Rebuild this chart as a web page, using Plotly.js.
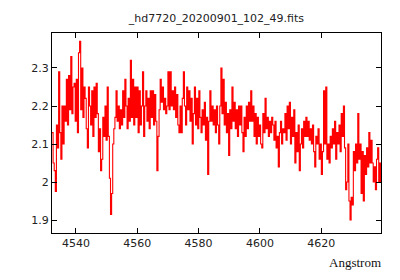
<!DOCTYPE html>
<html>
<head>
<meta charset="utf-8">
<script src="https://cdn.plot.ly/plotly-3.0.1.min.js"></script>
<style>html,body{margin:0;padding:0;background:#fff;}#chart{width:400px;height:280px;}</style>
</head>
<body>
<div id="chart"></div>
<script>
// Spectrum: start wavelength and sampling step (Angstrom)
const waveStart = 4532.2;
const waveStep = 0.36;
// Flux values
const flux = [
  2.13, 2.05, 2.03, 1.975, 2.15, 2.09, 2.29, 2.13, 2.06, 2.2,
  2.1, 2.2, 2.16, 2.27, 2.15, 2.28, 2.19, 2.33, 2.18, 2.25,
  2.26, 2.16, 2.27, 2.13, 2.34, 2.37, 2.19, 2.3, 2.17, 2.25,
  2.22, 2.14, 2.09, 2.25, 2.2, 2.15, 2.24, 2.12, 2.25, 2.17,
  2.26, 2.18, 2.08, 2.14, 2.03, 2.06, 2.17, 2.12, 2.2, 2.11,
  2.25, 2.12, 2.01, 1.915, 1.97, 2.1, 2.14, 2.17, 2.24, 2.16,
  2.2, 2.14, 2.19, 2.15, 2.24, 2.17, 2.27, 2.2, 2.14, 2.22,
  2.16, 2.32, 2.17, 2.27, 2.15, 2.25, 2.17, 2.25, 2.13, 2.24,
  2.15, 2.2, 2.29, 2.12, 2.2, 2.24, 2.16, 2.22, 2.14, 2.24,
  2.17, 2.24, 2.15, 2.23, 2.16, 2.03, 2.12, 2.19, 2.27, 2.21,
  2.25, 2.19, 2.22, 2.18, 2.2, 2.29, 2.19, 2.29, 2.2, 2.24,
  2.19, 2.25, 2.17, 2.23, 2.15, 2.13, 2.2, 2.13, 2.22, 2.29,
  2.2, 2.15, 2.25, 2.19, 2.24, 2.16, 2.22, 2.1, 2.18, 2.25,
  2.15, 2.22, 2.14, 2.24, 2.17, 2.13, 2.19, 2.15, 2.21, 2.11,
  2.17, 2.02, 2.16, 2.24, 2.16, 2.2, 2.15, 2.19, 2.13, 2.2,
  2.15, 2.1, 2.2, 2.3, 2.18, 2.27, 2.15, 2.21, 2.13, 2.18,
  2.07, 2.19, 2.14, 2.25, 2.16, 2.21, 2.14, 2.19, 2.12, 2.2,
  2.15, 2.2, 2.13, 2.08, 2.17, 2.12, 2.2, 2.14, 2.21, 2.16,
  2.24, 2.16, 2.2, 2.12, 2.18, 2.1, 2.17, 2.12, 2.15, 2.1,
  2.09, 2.18, 2.13, 2.22, 2.14, 2.17, 2.12, 2.16, 2.13, 2.17,
  2.15, 2.11, 2.16, 2.09, 2.12, 2.04, 2.13, 2.16, 2.1, 2.14,
  2.13, 2.18, 2.11, 2.2, 2.14, 2.21, 2.1, 2.17, 2.12, 2.19,
  2.05, 2.13, 2.08, 2.15, 2.03, 2.1, 2.14, 2.09, 2.16, 2.12,
  2.17, 2.12, 2.16, 2.11, 2.14, 2.1, 2.15, 2.08, 2.04, 2.12,
  2.1, 2.14, 2.06, 2.1, 2.02, 2.08, 2.24, 2.1, 2.25, 2.06,
  2.1, 2.05, 2.12, 2.09, 2.14, 2.1, 2.16, 2.06, 2.13, 2.1,
  2.15, 2.08, 2.18, 2.12, 2.2, 2.09, 1.98, 2.0, 2.1, 1.95,
  1.9, 1.96, 1.94, 2.08, 2.03, 2.1, 2.05, 2.18, 2.06, 2.1,
  1.97, 2.08, 1.95, 2.07, 2.02, 2.09, 2.04, 2.13, 2.05, 2.11,
  2.05, 2.0, 2.04, 1.98, 2.06, 2.09, 2.0, 2.05, 2.0
];
const xTicks = [4540, 4560, 4580, 4600, 4620];
const yTicks = [1.9, 2, 2.1, 2.2, 2.3];
const titleText = "_hd7720_20200901_102_49.fits";
const xLabel = "Angstrom";

const trace = {
  type: "scatter",
  mode: "lines",
  y: flux,
  x0: waveStart,
  dx: waveStep,
  line: {color: "#ff0000", width: 1.1, shape: "hv"},
  hoverinfo: "skip"
};

const axisCommon = {
  showline: true, linecolor: "#000", linewidth: 1, mirror: "ticks",
  ticks: "inside", ticklen: 5, tickcolor: "#000", tickwidth: 1,
  showgrid: false, zeroline: false,
  tickfont: {family: "DejaVu Sans, sans-serif", size: 11, color: "#222"}
};

const layout = {
  width: 400, height: 280,
  margin: {l: 52, r: 19, t: 33, b: 47},
  paper_bgcolor: "#fff", plot_bgcolor: "#fff",
  showlegend: false,
  title: {text: titleText, x: 0.541, xanchor: "center", y: 0.935, yanchor: "middle",
          font: {family: "DejaVu Sans, sans-serif", size: 11, color: "#222"}},
  xaxis: Object.assign({}, axisCommon, {range: [4532.2, 4639.5], tickvals: xTicks, ticktext: xTicks.map(String)}),
  yaxis: Object.assign({}, axisCommon, {range: [1.866, 2.392], tickvals: yTicks, ticktext: ["1.9", "2", "2.1", "2.2", "2.3"]}),
  annotations: [{
    text: xLabel, xref: "paper", yref: "paper", x: 1.006, y: -0.145,
    xanchor: "right", yanchor: "middle", showarrow: false,
    font: {family: "Liberation Serif, serif", size: 13, color: "#111"}
  }]
};

Plotly.newPlot("chart", [trace], layout, {staticPlot: true, displayModeBar: false});
</script>
</body>
</html>
